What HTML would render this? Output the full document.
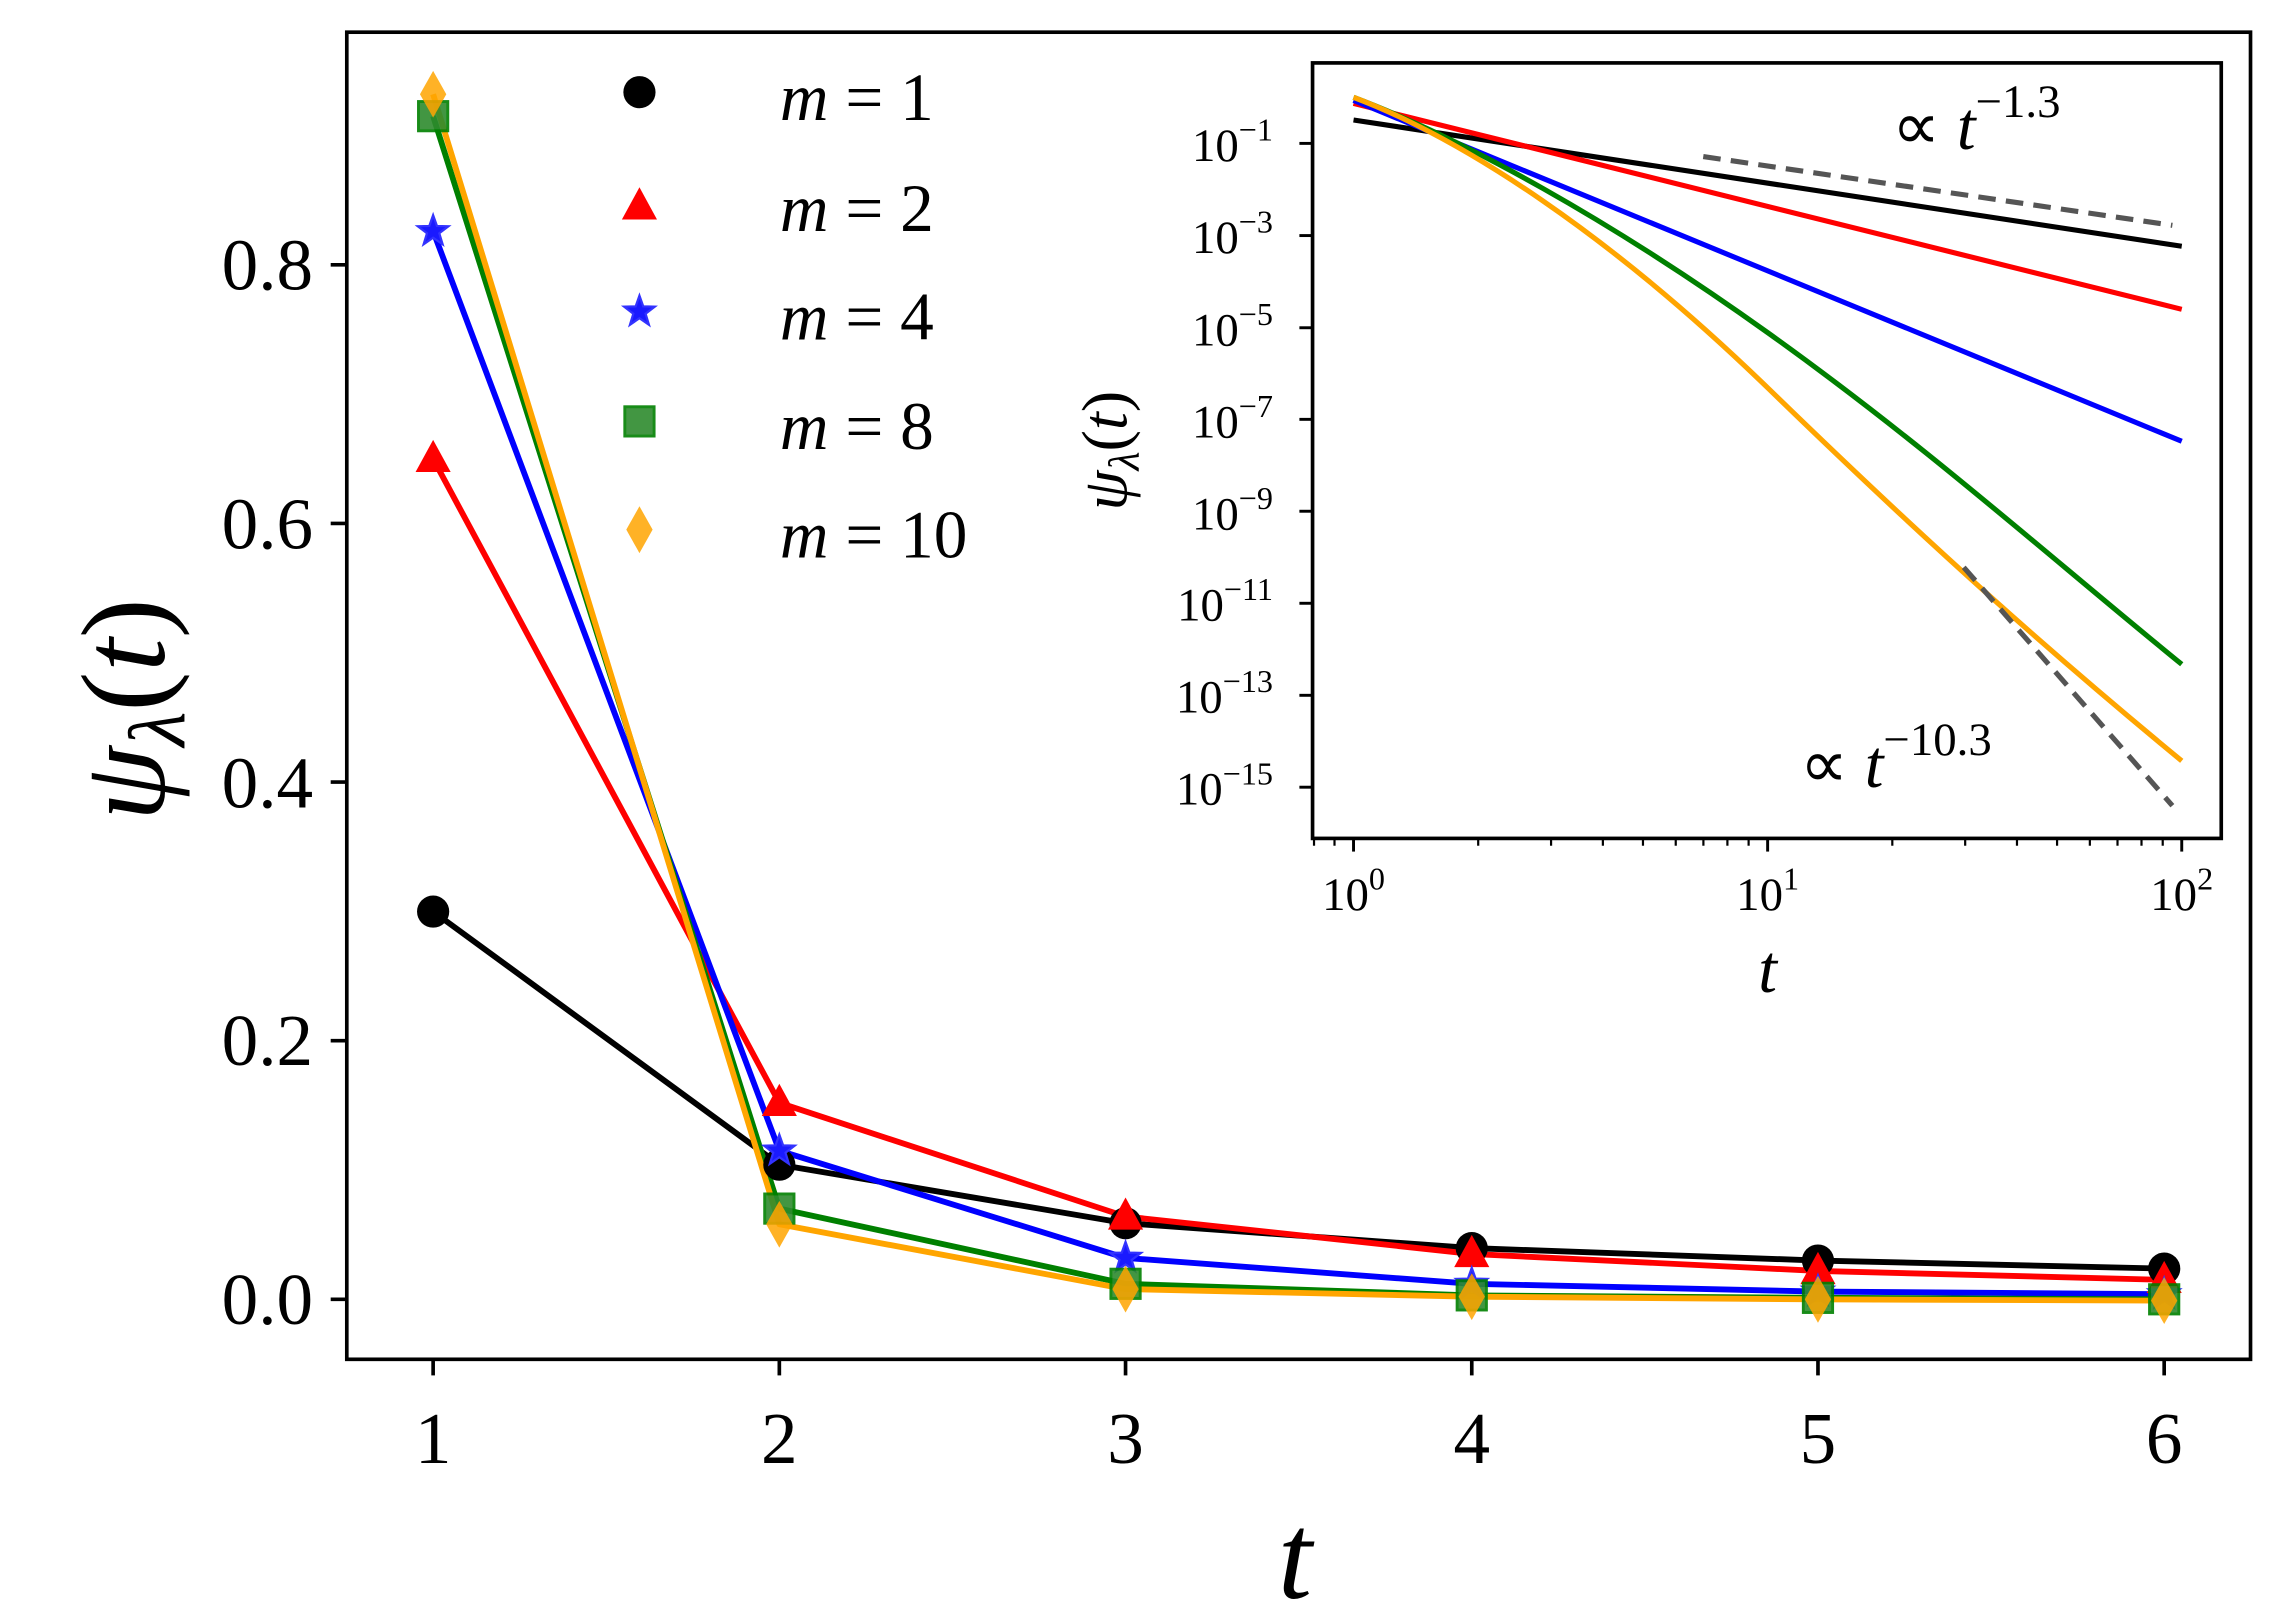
<!DOCTYPE html>
<html><head><meta charset="utf-8"><style>html,body{margin:0;padding:0;background:#fff}svg{display:block}</style></head><body>
<svg width="2295" height="1624" viewBox="0 0 1568.4 1109.9" preserveAspectRatio="none" xmlns="http://www.w3.org/2000/svg" font-family="'Liberation Serif', serif">
<rect width="1600" height="1120" fill="#fff"/>
<defs>
<circle id="mc" r="11" fill="#000"/>
<polygon id="mt" points="0,-13 12,9 -12,9" fill="red"/>
<polygon id="ms" points="0,-11 2.6,-3.6 10.5,-3.4 4.2,1.4 6.5,9 0,4.5 -6.5,9 -4.2,1.4 -10.5,-3.4 -2.6,-3.6" fill="#1a1aff" stroke="#3333ff" stroke-width="1.5"/>
<rect id="mq" x="-10" y="-10" width="20" height="20" fill="#2e8b2e" stroke="green" stroke-width="2" opacity="0.9"/>
<polygon id="md" points="0,-16 9,0 0,16 -9,0" fill="orange" opacity="0.85"/>
</defs>
<g fill="none" stroke-width="4" stroke-linejoin="round">
<polyline stroke="#000" points="296,623 532.6,796 769.2,836 1005.8,853 1242.4,861.5 1479,867"/>
<polyline stroke="red" points="296,313.6 532.6,753.7 769.2,831.4 1005.8,857 1242.4,868.6 1479,874.7"/>
<polyline stroke="blue" points="296,158 532.6,786.4 769.2,859.7 1005.8,877.4 1242.4,882.7 1479,884.5"/>
<polyline stroke="green" points="296,79.4 532.6,826 769.2,877.4 1005.8,885.3 1242.4,887 1479,888"/>
<polyline stroke="orange" points="296,64.4 532.6,836.7 769.2,881 1005.8,886.2 1242.4,888 1479,888.9"/>
</g>
<g>
<use href="#mc" x="296" y="623"/><use href="#mc" x="532.6" y="796"/><use href="#mc" x="769.2" y="836"/><use href="#mc" x="1005.8" y="853"/><use href="#mc" x="1242.4" y="861.5"/><use href="#mc" x="1479" y="867"/>
<use href="#mt" x="296" y="313.6"/><use href="#mt" x="532.6" y="753.7"/><use href="#mt" x="769.2" y="831.4"/><use href="#mt" x="1005.8" y="857"/><use href="#mt" x="1242.4" y="868.6"/><use href="#mt" x="1479" y="874.7"/>
<use href="#ms" x="296" y="158"/><use href="#ms" x="532.6" y="786.4"/><use href="#ms" x="769.2" y="859.7"/><use href="#ms" x="1005.8" y="877.4"/><use href="#ms" x="1242.4" y="882.7"/><use href="#ms" x="1479" y="884.5"/>
<use href="#mq" x="296" y="79.4"/><use href="#mq" x="532.6" y="826"/><use href="#mq" x="769.2" y="877.4"/><use href="#mq" x="1005.8" y="885.3"/><use href="#mq" x="1242.4" y="887"/><use href="#mq" x="1479" y="888"/>
<use href="#md" x="296" y="64.4"/><use href="#md" x="532.6" y="836.7"/><use href="#md" x="769.2" y="881"/><use href="#md" x="1005.8" y="886.2"/><use href="#md" x="1242.4" y="888"/><use href="#md" x="1479" y="888.9"/>
</g>
<rect x="237" y="22" width="1301" height="907" fill="none" stroke="#000" stroke-width="2.5"/>
<g stroke="#000" stroke-width="2.5">
<line x1="296" y1="929" x2="296" y2="940"/><line x1="532.6" y1="929" x2="532.6" y2="940"/><line x1="769.2" y1="929" x2="769.2" y2="940"/><line x1="1005.8" y1="929" x2="1005.8" y2="940"/><line x1="1242.4" y1="929" x2="1242.4" y2="940"/><line x1="1479" y1="929" x2="1479" y2="940"/>
<line x1="226" y1="888" x2="237" y2="888"/><line x1="226" y1="711.25" x2="237" y2="711.25"/><line x1="226" y1="534.5" x2="237" y2="534.5"/><line x1="226" y1="357.75" x2="237" y2="357.75"/><line x1="226" y1="181" x2="237" y2="181"/>
</g>
<g font-size="50" text-anchor="middle">
<text x="296" y="1000">1</text><text x="532.6" y="1000">2</text><text x="769.2" y="1000">3</text><text x="1005.8" y="1000">4</text><text x="1242.4" y="1000">5</text><text x="1479" y="1000">6</text>
</g>
<g font-size="50" text-anchor="end">
<text x="214" y="905">0.0</text><text x="214" y="728">0.2</text><text x="214" y="552">0.4</text><text x="214" y="375">0.6</text><text x="214" y="198">0.8</text>
</g>
<text x="885" y="1092" font-size="84" font-style="italic" text-anchor="middle">t</text>
<text transform="translate(112,485) rotate(-90)" font-size="82" font-style="italic" text-anchor="middle">ψ<tspan font-size="55" dy="14">λ</tspan><tspan dy="-14" font-style="normal">(</tspan>t<tspan font-style="normal">)</tspan></text>
<use href="#mc" x="437" y="63"/><use href="#mt" x="437" y="141"/><use href="#ms" x="437" y="213"/><use href="#mq" x="437" y="288"/><use href="#md" x="437" y="362"/>
<g font-size="46">
<text x="533" y="82"><tspan font-style="italic">m</tspan> = 1</text>
<text x="533" y="158"><tspan font-style="italic">m</tspan> = 2</text>
<text x="533" y="232"><tspan font-style="italic">m</tspan> = 4</text>
<text x="533" y="307"><tspan font-style="italic">m</tspan> = 8</text>
<text x="533" y="381"><tspan font-style="italic">m</tspan> = 10</text>
</g>
<rect x="897" y="43" width="621" height="530" fill="#fff" stroke="#000" stroke-width="2.5"/>
<g fill="none" stroke-width="3.5">
<polyline stroke="#000" points="925,82 1491,168.3"/>
<polyline stroke="red" points="925,70.7 1491,211.4"/>
<polyline stroke="blue" points="925,68.6 1491,301.6"/>
<path stroke="green" d="M925,66.5 C1000,95 1100,150 1209,228 S1400,380 1491,454"/>
<path stroke="orange" d="M925,66.5 C1000,95 1100,160 1209,266 S1400,445 1491,520"/>
<line stroke="#555" stroke-dasharray="12,7" x1="1164" y1="107" x2="1484.6" y2="154"/>
<line stroke="#555" stroke-dasharray="12,7" x1="1342" y1="387.7" x2="1484.6" y2="550.6"/>
</g>
<g stroke="#000" stroke-width="2">
<line x1="925" y1="573" x2="925" y2="582"/><line x1="1208" y1="573" x2="1208" y2="582"/><line x1="1491" y1="573" x2="1491" y2="582"/>
<g stroke-width="1.5">
<line x1="912" y1="573" x2="912" y2="578"/><line x1="898" y1="573" x2="898" y2="578"/>
<line x1="1010.2" y1="573" x2="1010.2" y2="578"/><line x1="1060" y1="573" x2="1060" y2="578"/><line x1="1095.4" y1="573" x2="1095.4" y2="578"/><line x1="1122.8" y1="573" x2="1122.8" y2="578"/><line x1="1145.2" y1="573" x2="1145.2" y2="578"/><line x1="1164.1" y1="573" x2="1164.1" y2="578"/><line x1="1180.5" y1="573" x2="1180.5" y2="578"/><line x1="1195" y1="573" x2="1195" y2="578"/>
<line x1="1293.2" y1="573" x2="1293.2" y2="578"/><line x1="1343" y1="573" x2="1343" y2="578"/><line x1="1378.4" y1="573" x2="1378.4" y2="578"/><line x1="1405.8" y1="573" x2="1405.8" y2="578"/><line x1="1428.2" y1="573" x2="1428.2" y2="578"/><line x1="1447.1" y1="573" x2="1447.1" y2="578"/><line x1="1463.5" y1="573" x2="1463.5" y2="578"/><line x1="1478" y1="573" x2="1478" y2="578"/>
</g>
<line x1="888" y1="98" x2="897" y2="98"/><line x1="888" y1="161" x2="897" y2="161"/><line x1="888" y1="224" x2="897" y2="224"/><line x1="888" y1="286.6" x2="897" y2="286.6"/><line x1="888" y1="349.4" x2="897" y2="349.4"/><line x1="888" y1="412.3" x2="897" y2="412.3"/><line x1="888" y1="475.2" x2="897" y2="475.2"/><line x1="888" y1="538" x2="897" y2="538"/>
</g>
<g font-size="32" text-anchor="end">
<text x="870" y="110">10<tspan font-size="22" dy="-14">−1</tspan></text>
<text x="870" y="173">10<tspan font-size="22" dy="-14">−3</tspan></text>
<text x="870" y="236">10<tspan font-size="22" dy="-14">−5</tspan></text>
<text x="870" y="299">10<tspan font-size="22" dy="-14">−7</tspan></text>
<text x="870" y="362">10<tspan font-size="22" dy="-14">−9</tspan></text>
<text x="870" y="424">10<tspan font-size="22" dy="-14">−11</tspan></text>
<text x="870" y="487">10<tspan font-size="22" dy="-14">−13</tspan></text>
<text x="870" y="550">10<tspan font-size="22" dy="-14">−15</tspan></text>
</g>
<g font-size="32" text-anchor="middle">
<text x="925" y="622">10<tspan font-size="22" dy="-14">0</tspan></text>
<text x="1208" y="622">10<tspan font-size="22" dy="-14">1</tspan></text>
<text x="1491" y="622">10<tspan font-size="22" dy="-14">2</tspan></text>
</g>
<text x="1208" y="678" font-size="46" font-style="italic" text-anchor="middle">t</text>
<text transform="translate(770,308) rotate(-90)" font-size="44" font-style="italic" text-anchor="middle">ψ<tspan font-size="30" dy="8">λ</tspan><tspan dy="-8" font-style="normal">(</tspan>t<tspan font-style="normal">)</tspan></text>
<text x="1293" y="102" font-size="46">∝ <tspan font-style="italic">t</tspan><tspan font-size="32" dy="-22">−1.3</tspan></text>
<text x="1230" y="538" font-size="46">∝ <tspan font-style="italic">t</tspan><tspan font-size="32" dy="-22">−10.3</tspan></text>
</svg>
</body></html>
